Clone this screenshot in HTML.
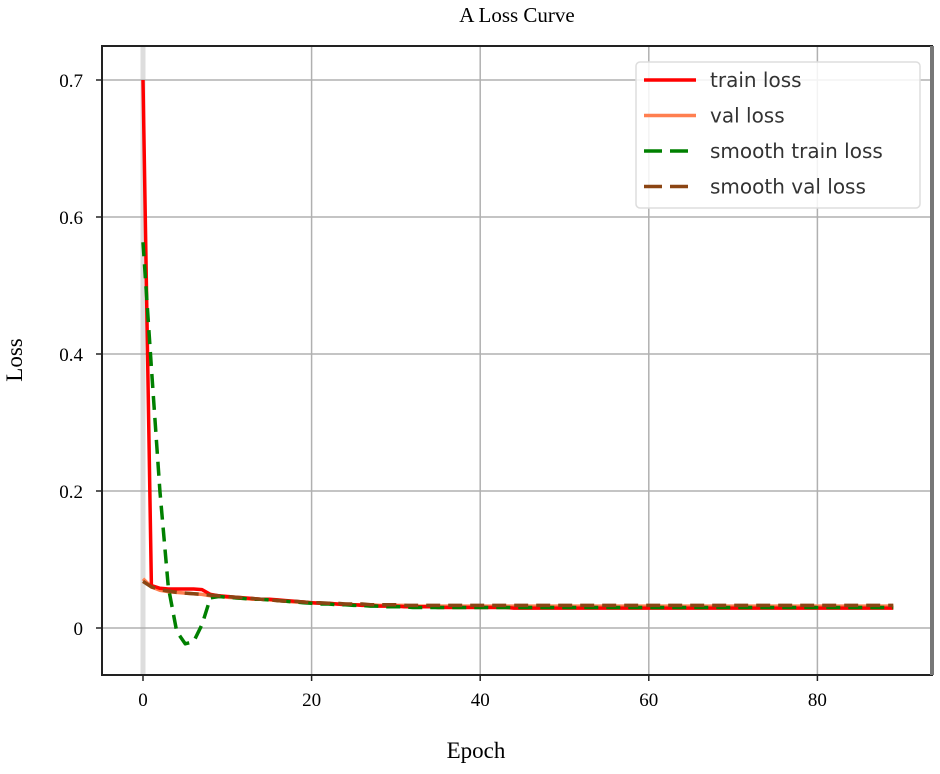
<!DOCTYPE html>
<html><head><meta charset="utf-8"><style>
body{margin:0;background:#fff}
svg text{font-family:"Liberation Serif",serif}
</style></head><body>
<svg id="chart" width="940" height="769" xmlns="http://www.w3.org/2000/svg">
<text x="517" y="22" text-anchor="middle" font-size="21">A Loss Curve</text>
<g id="grid"></g>
<g id="lines"></g>
<rect x="102" y="46" width="830" height="629" fill="none" stroke="#222" stroke-width="2"/>
<line x1="932" y1="46" x2="932" y2="675" stroke="#777" stroke-width="4"/>
<g id="ticks"></g>
<text x="476" y="758" text-anchor="middle" font-size="23">Epoch</text>
<text x="22" y="360" text-anchor="middle" font-size="23" transform="rotate(-90 22 360)">Loss</text>
<g>
<rect x="636" y="62" width="284" height="146" rx="4" fill="#fff" fill-opacity="0.85" stroke="#ddd" stroke-width="1.5"/>
<g id="legend-items"></g>
</g>
</svg>
<script>
const xTicks=[0,20,40,60,80];
const yTicks=[0,0.2,0.4,0.6,0.8];
const yTickLabels=["0","0.2","0.4","0.6","0.7"];
const trainLoss=[0.80,0.062,0.058,0.057,0.057,0.057,0.057,0.056,0.049,0.047,0.046,0.045,0.044,0.043,0.042,0.042,0.041,0.040,0.039,0.038,0.037,0.036,0.036,0.035,0.034,0.034,0.033,0.033,0.032,0.032,0.032,0.031,0.031,0.031,0.031,0.030,0.030,0.030,0.030,0.030,0.030,0.030,0.030,0.030,0.029,0.029,0.029,0.029,0.029,0.029,0.029,0.029,0.029,0.029,0.029,0.029,0.029,0.029,0.029,0.029,0.029,0.029,0.029,0.029,0.029,0.029,0.029,0.029,0.029,0.029,0.029,0.029,0.029,0.029,0.029,0.029,0.029,0.029,0.029,0.029,0.029,0.029,0.029,0.029,0.029,0.029,0.029,0.029,0.029,0.029];
const valLoss=[0.072,0.060,0.055,0.053,0.052,0.051,0.050,0.049,0.047,0.046,0.045,0.044,0.043,0.042,0.042,0.041,0.040,0.039,0.038,0.038,0.037,0.036,0.036,0.035,0.035,0.034,0.034,0.034,0.033,0.033,0.033,0.033,0.032,0.032,0.032,0.032,0.032,0.032,0.032,0.032,0.032,0.032,0.032,0.032,0.032,0.032,0.032,0.032,0.032,0.032,0.032,0.032,0.032,0.032,0.032,0.032,0.032,0.032,0.032,0.032,0.032,0.032,0.032,0.032,0.032,0.032,0.032,0.032,0.032,0.032,0.032,0.032,0.032,0.032,0.032,0.032,0.032,0.032,0.032,0.032,0.032,0.032,0.032,0.032,0.032,0.032,0.032,0.032,0.032,0.032];
const smoothTrain=[0.563,0.38,0.20,0.06,-0.005,-0.023,-0.020,0.005,0.044,0.046,0.045,0.044,0.043,0.042,0.042,0.041,0.040,0.039,0.038,0.037,0.036,0.035,0.035,0.034,0.034,0.033,0.033,0.032,0.032,0.031,0.031,0.031,0.030,0.030,0.030,0.030,0.030,0.030,0.030,0.030,0.030,0.030,0.030,0.030,0.030,0.030,0.030,0.030,0.030,0.030,0.030,0.030,0.030,0.030,0.030,0.030,0.030,0.030,0.030,0.030,0.030,0.030,0.030,0.030,0.030,0.030,0.030,0.030,0.030,0.030,0.030,0.030,0.030,0.030,0.030,0.030,0.030,0.030,0.030,0.030,0.030,0.030,0.030,0.030,0.030,0.030,0.030,0.030,0.030,0.030];
const smoothVal=[0.068,0.060,0.056,0.054,0.052,0.051,0.050,0.049,0.048,0.047,0.046,0.045,0.044,0.043,0.042,0.041,0.040,0.039,0.039,0.038,0.037,0.037,0.036,0.036,0.035,0.035,0.035,0.034,0.034,0.034,0.034,0.033,0.033,0.033,0.033,0.033,0.033,0.033,0.033,0.033,0.033,0.033,0.033,0.033,0.033,0.033,0.033,0.033,0.033,0.033,0.033,0.033,0.033,0.033,0.033,0.033,0.033,0.033,0.033,0.033,0.033,0.033,0.033,0.033,0.033,0.033,0.033,0.033,0.033,0.033,0.033,0.033,0.033,0.033,0.033,0.033,0.033,0.033,0.033,0.033,0.033,0.033,0.033,0.033,0.033,0.033,0.033,0.033,0.033,0.033];
const NS="http://www.w3.org/2000/svg";
const X=v=>143+v*8.43, Y=v=>628-v*685;
function mk(tag,attrs,parent){const e=document.createElementNS(NS,tag);for(const k in attrs)e.setAttribute(k,attrs[k]);parent.appendChild(e);return e;}
const grid=document.getElementById('grid'),ticks=document.getElementById('ticks');
xTicks.forEach(t=>{
  const g=mk('line',{x1:X(t),x2:X(t),y1:46,y2:675,stroke:t===0?'#ddd':'#b0b0b0','stroke-width':t===0?5:1.5},grid);
  
  
  mk('line',{x1:X(t),x2:X(t),y1:675,y2:681,stroke:'#222','stroke-width':1.5},ticks);
  const tx=mk('text',{x:X(t),y:706,'text-anchor':'middle','font-size':19},ticks);tx.textContent=t;
  
  
});
yTicks.forEach((t,i)=>{
  const g=mk('line',{x1:102,x2:932,y1:Y(t),y2:Y(t),stroke:'#b0b0b0','stroke-width':1.5},grid);
  
  
  mk('line',{x1:96,x2:102,y1:Y(t),y2:Y(t),stroke:'#222','stroke-width':1.5},ticks);
  const tx=mk('text',{x:83,y:Y(t)+7,'text-anchor':'end','font-size':19},ticks);tx.textContent=yTickLabels[i];
  
  
});
const series=[
 {d:valLoss,c:'#ff7f50',dash:'',name:'val loss',w:3.5},
 {d:trainLoss,c:'#ff0000',dash:'',name:'train loss',w:3.5},
 {d:smoothTrain,c:'#008000',dash:'14,8',name:'smooth train loss',w:3.5},
 {d:smoothVal,c:'#8b4513',dash:'14,8',name:'smooth val loss',w:3.5}];
const lines=document.getElementById('lines');
series.forEach(s=>{
  const p=mk('path',{d:s.d.map((v,i)=>(i?'L':'M')+X(i).toFixed(1)+','+Y(v).toFixed(1)).join(''),fill:'none',stroke:s.c,'stroke-width':s.w,'stroke-dasharray':s.dash,'stroke-linejoin':'round'},lines);
  
  
});
const leg=document.getElementById('legend-items');
[series[1],series[0],series[2],series[3]].forEach((s,i)=>{
  const y=80+i*35.5;
  mk('line',{x1:644,x2:696,y1:y,y2:y,stroke:s.c,'stroke-width':3.5,'stroke-dasharray':s.dash?'18,8':''},leg);
  const t=mk('text',{x:710,y:y+7,'font-size':20,fill:'#333',style:'font-family:"DejaVu Sans",sans-serif'},leg);t.textContent=s.name;
  
  
});
</script>
</body></html>
